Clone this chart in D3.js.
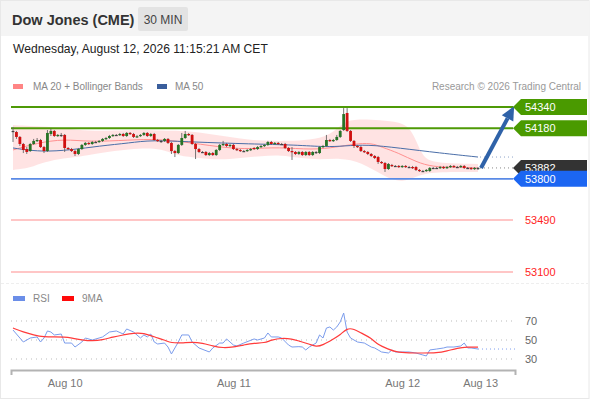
<!DOCTYPE html>
<html>
<head>
<meta charset="utf-8">
<script src="https://cdn.jsdelivr.net/npm/d3@7"></script>
<style>
  body { margin: 0; background: #fff; }
  svg { display: block; font-family: "Liberation Sans", Arial, sans-serif; }
</style>
</head>
<body>
<script>
// 30 min candles, Dow Jones (CME)
const open = [
  54160,54152,54115,54062,54024,54009,54062,54085,54092,54039,
  54009,54137,54160,54122,54130,54130,54032,54024,54009,53987,
  54024,54055,54070,54062,54077,54077,54085,54100,54107,54122,
  54130,54130,54137,54122,54145,54137,54115,54122,54130,54145,
  54122,54137,54092,54085,54085,54100,54070,54009,53994,54055,
  54107,54137,54130,54062,54024,54002,54002,53979,53994,53979,
  54017,54055,54062,54047,54055,54024,54017,54009,54009,54017,
  54032,54024,54039,54047,54055,54077,54062,54070,54062,54062,
  54032,54009,54002,53987,54002,53979,54002,53979,54002,53994,
  54039,54047,54092,54085,54092,54115,54167,54295,54160,54085,
  54047,54039,54009,54002,53987,53972,53964,53927,53919,53874,
  53904,53897,53897,53889,53897,53889,53889,53889,53867,53859,
  53859,53859,53882,53879,53882,53889,53882,53889,53897,53889,
  53889,53897,53882,53882,53874,53882
];
const close = [
  54157,54115,54062,54017,54002,54062,54085,54092,54039,54009,
  54145,54160,54122,54130,54127,54032,54024,54009,53987,54024,
  54055,54070,54062,54077,54075,54085,54100,54107,54122,54130,
  54127,54137,54122,54145,54137,54115,54120,54130,54145,54122,
  54137,54092,54085,54082,54100,54070,54009,53994,54055,54107,
  54137,54130,54062,54024,54002,53999,53979,53994,53979,54017,
  54055,54062,54047,54055,54024,54017,54009,54007,54017,54024,
  54024,54039,54047,54055,54077,54062,54070,54062,54060,54032,
  54009,54002,53987,54002,53979,54002,53979,54002,53999,54039,
  54047,54092,54085,54092,54115,54160,54287,54160,54085,54047,
  54039,54009,54002,53987,53972,53957,53927,53919,53874,53912,
  53897,53894,53889,53897,53889,53887,53882,53867,53859,53857,
  53867,53882,53879,53882,53889,53882,53889,53897,53889,53887,
  53897,53882,53879,53874,53882,53882
];
const high = [
  54190,54160,54122,54070,54039,54070,54100,54107,54100,54047,
  54167,54175,54167,54137,54145,54137,54039,54032,54017,54032,
  54062,54077,54077,54085,54085,54092,54107,54115,54130,54137,
  54137,54145,54145,54152,54152,54145,54130,54137,54152,54152,
  54145,54145,54100,54092,54107,54107,54077,54017,54062,54145,
  54160,54145,54137,54070,54032,54009,54009,54002,54002,54024,
  54062,54085,54070,54062,54062,54032,54024,54017,54024,54032,
  54039,54047,54055,54062,54085,54085,54077,54077,54070,54070,
  54039,54039,54009,54009,54009,54009,54009,54009,54009,54047,
  54055,54130,54100,54100,54130,54167,54332,54332,54167,54092,
  54055,54047,54017,54009,53994,53979,53972,53934,53927,53919,
  53912,53904,53904,53904,53904,53897,53897,53897,53874,53867,
  53874,53889,53889,53889,53897,53897,53897,53904,53904,53897,
  53904,53904,53889,53889,53889,53889
];
const low = [
  54077,54100,54047,53994,53987,54002,54055,54077,54032,53994,
  54002,54122,54115,54115,54115,54002,54017,54002,53972,53979,
  54017,54047,54055,54055,54070,54070,54077,54092,54100,54115,
  54122,54122,54115,54115,54130,54107,54107,54115,54122,54115,
  54115,54085,54077,54070,54077,54062,53987,53964,53987,54047,
  54100,54122,54055,53949,53994,53994,53972,53972,53972,53972,
  54009,54047,54039,54039,54017,54009,54002,54002,54002,54009,
  54017,54017,54032,54039,54047,54055,54055,54055,54055,54024,
  54002,53942,53979,53979,53972,53972,53972,53972,53987,53987,
  54032,54039,54077,54077,54085,54107,54160,54152,54077,54032,
  54032,54002,53994,53979,53964,53949,53912,53912,53852,53867,
  53889,53889,53882,53882,53882,53882,53874,53859,53852,53852,
  53852,53852,53874,53874,53874,53874,53874,53882,53882,53882,
  53882,53874,53874,53867,53867,53867
];

// moving averages and Bollinger bands, read at bar indices
const ma20Idx = [0,7,15,22,34,42,52,62,69,77,87,94,99,104,107,112,117,122,128,135];
const ma20 = [54017,54070,54100,54077,54092,54100,54070,54032,54024,54039,54017,54039,54062,54070,54039,53994,53927,53889,53889,53882];
const ma50Idx = [0,8,17,25,34,40,52,69,82,91,96,103,112,124,135];
const ma50 = [54032,54002,54017,54047,54070,54092,54077,54062,54055,54039,54047,54058,54032,53994,53964];
const upIdx = [0,5,11,19,25,34,40,46,51,57,63,69,75,80,86,92,96,99,107,112,115,117,119,122,135];
const upper = [54205,54197,54190,54167,54160,54167,54167,54160,54160,54137,54115,54092,54085,54085,54092,54122,54227,54250,54242,54227,54190,54092,53964,53919,53912];
const loIdx = [0,5,9,15,19,25,34,40,44,48,54,60,66,72,78,83,89,95,101,108,113,118,122,135];
const lower = [53867,53882,53927,53957,53964,53994,54024,54032,54017,53972,53957,53942,53957,53972,53979,53957,53942,53957,53927,53814,53769,53829,53852,53852];

// key levels
const resist = [54340, 54180];
const pivot = 53800;
const supports = [53490, 53100];
const lastPrice = 53882;

// RSI panel
const rsiIdx = [0,3,5,7,8,9,10,11,12,14,15,17,18,20,21,23,25,26,28,30,32,33,35,37,38,39,40,41,42,44,45,46,48,49,51,52,54,57,58,60,61,62,64,65,67,70,71,73,74,75,77,78,80,81,83,84,85,86,87,88,89,90,91,92,93,94,95,96,97,98,100,102,104,105,106,107,109,110,111,113,115,117,119,120,121,123,125,126,128,130,131,132,133,135];
const rsi = [60.5,47.9,52.1,53.2,47.9,52.1,59.5,58.4,55.3,56.3,46.8,46.8,42.6,47.9,52.1,50,52.1,53.2,58.4,59.5,56.3,61.6,58.4,52.1,55.3,53.2,56.3,47.9,45.8,46.8,42.6,35.3,47.9,55.3,55.3,47.9,41.6,37.4,41.6,46.8,46.8,51.1,44.7,43.7,46.8,51.1,50,52.1,57.4,53.2,53.2,52.1,44.7,42.6,43,42.6,39.5,42.6,44.7,46.8,55.3,52.1,62.6,63.7,60.5,63.7,69,78.4,58.4,52.1,47.9,46.8,42.6,41.6,39.5,37.4,36.3,39.5,37.4,37.4,37.4,36.3,34.2,33.2,39.5,40.5,41.6,42.6,42.6,43.7,46.8,41.6,41.6,40.5];
const ma9Idx = [0,3,6,9,12,15,17,20,23,26,29,32,35,38,41,44,46,49,52,55,58,61,64,67,70,73,75,78,81,83,86,88,90,93,95,97,99,101,104,106,109,111,115,119,123,126,129,132,135];
const ma9 = [62.6,58.4,55.3,53.2,53.2,53.2,52.1,50,48.9,50,53.2,55.3,57.4,57.4,53.2,50,46.8,46.8,47.9,46.8,43.7,41.6,42.6,44.7,46.8,46.8,50,52.1,51.1,48.9,45.8,42.6,44.7,51.1,55.3,62.6,61.6,57.4,52.1,44.7,40.5,37.4,36.3,36.3,36.3,38.4,41.6,42.6,42.6];
const rsiTicks = [70, 50, 30];

const dateIdx = [15, 64, 113, 135.6];
const dateLabels = ["Aug 10", "Aug 11", "Aug 12", "Aug 13"];

const W = 590, H = 400;
const svg = d3.select("body").append("svg").attr("width", W).attr("height", H);

svg.append("rect").attr("x", 0.5).attr("y", 0.5).attr("width", W - 1.5).attr("height", H - 2)
  .attr("fill", "#fff").attr("stroke", "#e8e8e8");
svg.append("rect").attr("x", 1).attr("y", 1).attr("width", W - 3).attr("height", 35).attr("fill", "#f4f4f4");

svg.append("text").attr("x", 12).attr("y", 25).attr("font-size", 14.5).attr("font-weight", "bold")
  .attr("fill", "#333").text("Dow Jones (CME)");
svg.append("rect").attr("x", 138).attr("y", 7).attr("width", 50).attr("height", 24).attr("rx", 2).attr("fill", "#e3e3e3");
svg.append("text").attr("x", 163).attr("y", 24).attr("text-anchor", "middle").attr("font-size", 12)
  .attr("fill", "#444").text("30 MIN");
svg.append("text").attr("x", 13).attr("y", 53).attr("font-size", 12.1).attr("fill", "#222")
  .text("Wednesday, August 12, 2026 11:15:21 AM CET");

// legend
svg.append("rect").attr("x", 13).attr("y", 84).attr("width", 10).attr("height", 5).attr("fill", "#ff8585");
svg.append("text").attr("x", 33).attr("y", 90).attr("font-size", 10).attr("fill", "#888").text("MA 20 + Bollinger Bands");
svg.append("rect").attr("x", 157).attr("y", 84).attr("width", 10).attr("height", 5).attr("fill", "#3a5e9c");
svg.append("text").attr("x", 175).attr("y", 90).attr("font-size", 10).attr("fill", "#888").text("MA 50");
svg.append("text").attr("x", 581).attr("y", 90).attr("text-anchor", "end").attr("font-size", 10)
  .attr("fill", "#999").text("Research \u00a9 2026 Trading Central");

const x = d3.scaleLinear().domain([0, 135]).range([13, 478]);
const y = d3.scaleLinear().domain([53100, 54340]).range([272, 107]);
const yR = d3.scaleLinear().domain([30, 70]).range([359, 321]);
const xL = 11, xR = 513;

// bollinger band
const smooth = d3.line().x(d => x(d[0])).y(d => y(d[1])).curve(d3.curveBasis);
const upPts = upIdx.map((d, i) => [d, upper[i]]);
const loPts = loIdx.map((d, i) => [d, lower[i]]).reverse();
const upPath = smooth(upPts);
const loPath = smooth(loPts);
svg.append("path").attr("d", upPath + "L" + loPath.slice(1) + "Z")
  .attr("fill", "#ffdcdc").attr("fill-opacity", 0.8);

// support / resistance lines
svg.selectAll("line.res").data(resist).enter().append("line")
  .attr("x1", xL).attr("x2", xR).attr("y1", d => y(d)).attr("y2", d => y(d))
  .attr("stroke", "#4e9a06").attr("stroke-width", 2);
svg.append("line").attr("x1", xL).attr("x2", xR).attr("y1", y(pivot)).attr("y2", y(pivot))
  .attr("stroke", "#5a8ae6").attr("stroke-width", 1.6);
svg.selectAll("line.sup").data(supports).enter().append("line")
  .attr("x1", xL).attr("x2", xR).attr("y1", d => y(d)).attr("y2", d => y(d))
  .attr("stroke", "#ffb3b3").attr("stroke-width", 1.5);

// MAs
svg.append("path").attr("d", smooth(ma20Idx.map((d, i) => [d, ma20[i]])))
  .attr("fill", "none").attr("stroke", "#ff9090").attr("stroke-width", 1);
svg.append("path").attr("d", smooth(ma50Idx.map((d, i) => [d, ma50[i]])))
  .attr("fill", "none").attr("stroke", "#4a6ea8").attr("stroke-width", 1);

// dotted extensions
svg.append("line").attr("x1", x(135) + 2).attr("x2", xR).attr("y1", y(ma50[ma50.length - 1])).attr("y2", y(ma50[ma50.length - 1]))
  .attr("stroke", "#8ea3c8").attr("stroke-dasharray", "1,3");
svg.append("line").attr("x1", x(135) + 2).attr("x2", xR).attr("y1", y(lastPrice)).attr("y2", y(lastPrice))
  .attr("stroke", "#888").attr("stroke-dasharray", "1,3");

// candles
const bars = d3.range(open.length);
const bw = 2.8;
svg.selectAll("line.wick").data(bars).enter().append("line")
  .attr("x1", i => x(i)).attr("x2", i => x(i))
  .attr("y1", i => y(high[i])).attr("y2", i => y(low[i]))
  .attr("stroke", "#666").attr("stroke-width", 0.9);
svg.selectAll("rect.body").data(bars).enter().append("rect")
  .attr("x", i => x(i) - bw / 2).attr("width", bw)
  .attr("y", i => y(Math.max(open[i], close[i])))
  .attr("height", i => Math.max(1.2, Math.abs(y(open[i]) - y(close[i]))))
  .attr("fill", i => Math.abs(close[i] - open[i]) < 4 ? "#444" : (close[i] > open[i] ? "#267326" : "#d01010"));

// forecast arrow
const ax0 = x(135) + 3, ay0 = y(lastPrice);
const ax1 = x(145.5), ay1 = y(resist[0]) - 1;
const ang = Math.atan2(ay1 - ay0, ax1 - ax0);
const hl = 14, hw = 6.5;
const bx = ax1 - hl * Math.cos(ang), by = ay1 - hl * Math.sin(ang);
svg.append("line").attr("x1", ax0).attr("y1", ay0).attr("x2", bx).attr("y2", by)
  .attr("stroke", "#2f62a8").attr("stroke-width", 4);
svg.append("path")
  .attr("d", `M${ax1},${ay1}L${bx + hw * Math.sin(ang)},${by - hw * Math.cos(ang)}L${bx - hw * Math.sin(ang)},${by + hw * Math.cos(ang)}Z`)
  .attr("fill", "#2f62a8");

// price tags
function tag(v, color) {
  const yc = y(v);
  svg.append("path").attr("d", `M${xR},${yc}L${xR + 8},${yc - 8}L587,${yc - 8}L587,${yc + 8}L${xR + 8},${yc + 8}Z`)
    .attr("fill", color);
  svg.append("text").attr("x", 525).attr("y", yc + 4).attr("font-size", 11).attr("fill", "#fff").text(v);
}
resist.forEach(v => tag(v, "#4a9a00"));
tag(lastPrice, "#333");
tag(pivot, "#1c66f2");
supports.forEach(v => {
  svg.append("text").attr("x", 525).attr("y", y(v) + 4).attr("font-size", 11).attr("fill", "#ff2424").text(v);
});

// separator
svg.append("line").attr("x1", 1).attr("x2", W - 2).attr("y1", 283.5).attr("y2", 283.5)
  .attr("stroke", "#eee").attr("stroke-dasharray", "3,2");

// RSI panel
svg.append("rect").attr("x", 13).attr("y", 296).attr("width", 12).attr("height", 5).attr("fill", "#6b8ee8");
svg.append("text").attr("x", 33).attr("y", 302).attr("font-size", 10).attr("fill", "#888").text("RSI");
svg.append("rect").attr("x", 62).attr("y", 296).attr("width", 12).attr("height", 5).attr("fill", "#ff0a0a");
svg.append("text").attr("x", 82).attr("y", 302).attr("font-size", 10).attr("fill", "#888").text("9MA");

svg.selectAll("line.rg").data(rsiTicks).enter().append("line")
  .attr("x1", xL).attr("x2", 515).attr("y1", d => yR(d)).attr("y2", d => yR(d))
  .attr("stroke", "#bbb").attr("stroke-dasharray", "1,4");
svg.selectAll("text.rt").data(rsiTicks).enter().append("text")
  .attr("x", 525).attr("y", d => yR(d) + 4).attr("font-size", 11).attr("fill", "#666").text(d => d);

svg.append("line").attr("x1", x(135)).attr("x2", 515).attr("y1", yR(rsi[rsi.length - 1])).attr("y2", yR(rsi[rsi.length - 1]))
  .attr("stroke", "#7f9ef0").attr("stroke-dasharray", "1,3");
svg.append("path").attr("d", d3.line().x(d => x(d[0])).y(d => yR(d[1]))(rsiIdx.map((d, i) => [d, rsi[i]])))
  .attr("fill", "none").attr("stroke", "#7b9cec").attr("stroke-width", 1);
svg.append("path").attr("d", d3.line().x(d => x(d[0])).y(d => yR(d[1])).curve(d3.curveBasis)(ma9Idx.map((d, i) => [d, ma9[i]])))
  .attr("fill", "none").attr("stroke", "#ff3b3b").attr("stroke-width", 1.2);

// time axis
svg.append("path").attr("d", "M11.5,375V370.5H515.5V375").attr("fill", "none").attr("stroke", "#b3b3b3").attr("stroke-width", 2);
const ax = svg.append("g").attr("transform", "translate(0,371)")
  .call(d3.axisBottom(x).tickValues(dateIdx).tickFormat((d, i) => dateLabels[i]).tickSize(0).tickPadding(8));
ax.select(".domain").remove();
ax.selectAll("text").attr("font-size", 11).attr("fill", "#777").attr("font-family", "Liberation Sans, Arial, sans-serif");
</script>
</body>
</html>
